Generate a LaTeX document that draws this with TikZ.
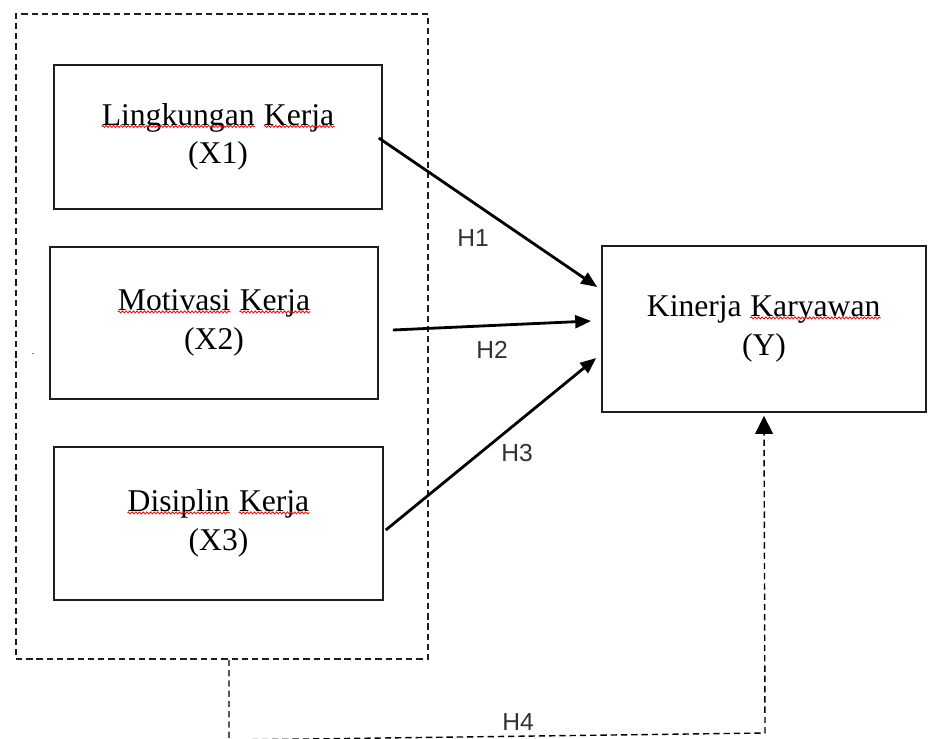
\documentclass[tikz,border=0pt]{standalone}
\usepackage{fontspec}
\setmainfont{Liberation Serif}
\newfontfamily\labelfont{Liberation Sans}
\usetikzlibrary{positioning, arrows.meta, calc, decorations.pathmorphing}
\definecolor{boxline}{RGB}{30,30,30}
\definecolor{labelgray}{RGB}{50,50,50}
\newcommand\spellmark[1]{\tikz[baseline=(w.base)]{\node[inner sep=0pt, draw=none, minimum width=0pt, minimum height=0pt] (w) {#1};
  \draw[red, line width=0.6pt, solid, decorate, decoration={snake, amplitude=0.7pt, segment length=2.6pt}] ([yshift=-0.8pt]w.base west) -- ([yshift=-0.8pt]w.base east);}}

\begin{document}
\begin{tikzpicture}[
    x=0.025cm, y=-0.025cm,
    varbox/.style={rectangle, draw=boxline, line width=1.1pt, minimum width=8.2cm, align=center, inner sep=0pt, font=\fontsize{22.5}{27.5}\selectfont},
    groupbox/.style={rectangle, draw=boxline, line width=1pt, dash pattern=on 4.5pt off 2.8pt, minimum width=10.3cm, minimum height=16.125cm},
    hyparrow/.style={-{Triangle[length=4mm, width=3.2mm]}, line width=2pt},
    jointarrow/.style={-{Triangle[length=4.5mm, width=4.4mm]}, line width=1pt, dash pattern=on 4.5pt off 2.8pt},
    hlabel/.style={font=\labelfont\fontsize{17.5}{20}\selectfont, text=labelgray, inner sep=1pt}
]

% Canvas
\useasboundingbox[fill=white] (0,0) rectangle (928,738);

% Independent variables inside the group frame
\node[groupbox] (group) at (222,336.5) {};
\node[varbox, minimum height=3.6cm] (x1) at (218,137) {\spellmark{Lingkungan} \spellmark{Kerja}\\(X1)};
\node[varbox, minimum height=3.8cm] (x2) at (214,323) {\spellmark{Motivasi} \spellmark{Kerja}\\(X2)};
\node[varbox, minimum height=3.825cm, minimum width=8.225cm] (x3) at (218.5,523.5) {\spellmark{Disiplin} \spellmark{Kerja}\\(X3)};
\node[font=\tiny] (stray) at (33,355) {-};

% Dependent variable
\node[varbox, minimum width=8.1cm, minimum height=4.15cm] (y) at (764,329) {Kinerja \spellmark{Karyawan}\\(Y)};

% Partial hypotheses
\draw[hyparrow] ($(x1.east)+(-4,1)$) -- ($(y.west)+(-4,-42)$);
\draw[hyparrow] ($(x2.east)+(14,7)$) -- ($(y.west)+(-10,-8)$);
\draw[hyparrow] ($(x3.east)+(2,6.5)$) -- ($(y.west)+(-5,29)$);

\node[hlabel] (h1) at (473,238) {H1};
\node[hlabel] (h2) at (492,350) {H2};
\node[hlabel] (h3) at (517,453) {H3};

% Simultaneous hypothesis
\coordinate (h4start) at ($(group.south)+(7,0)$);
\draw[jointarrow] (h4start) -- (229,740) -- (765,733) -- ($(y.south)+(0,3)$);
\node[hlabel] (h4) at (518,722) {H4};

\end{tikzpicture}
\end{document}
